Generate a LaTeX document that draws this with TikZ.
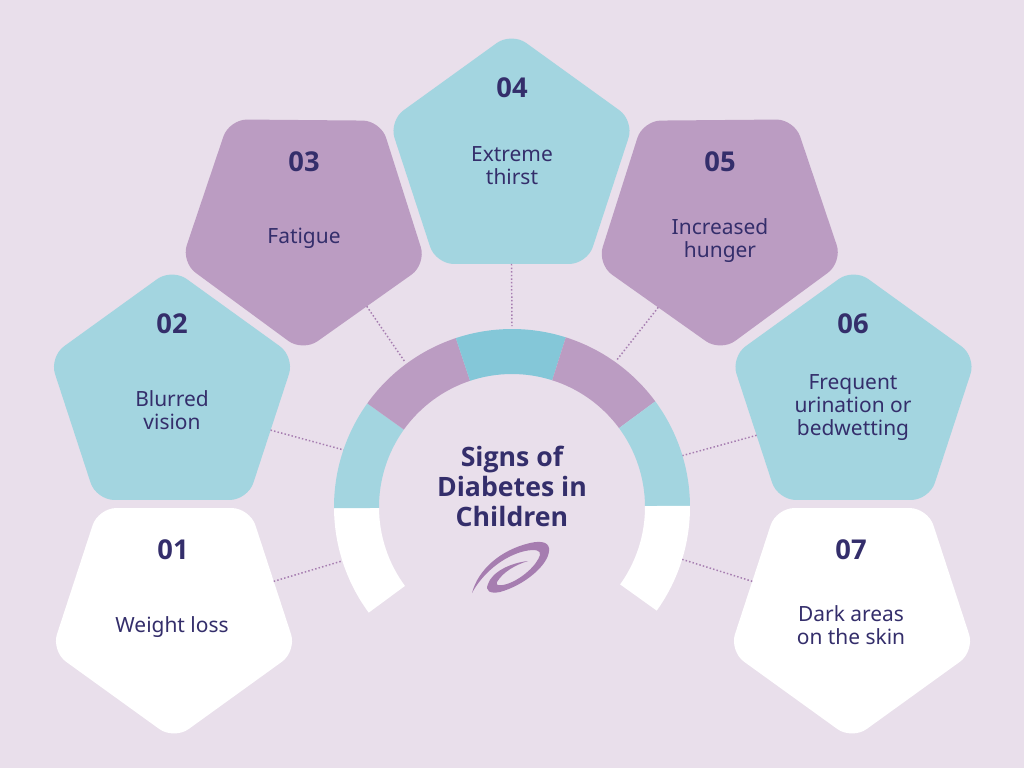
\documentclass[tikz,border=0pt]{standalone}
\usepackage{fontspec}
\usetikzlibrary{shapes.geometric}
\setmainfont{Noto Sans}
\newfontfamily\headfont{Open Sans}
\definecolor{bgcol}{RGB}{233,223,235}
\definecolor{tealcol}{RGB}{163,213,224}
\definecolor{topcol}{RGB}{132,199,216}
\definecolor{purpcol}{RGB}{187,156,194}
\definecolor{inkcol}{RGB}{52,46,107}
\definecolor{dotcol}{RGB}{166,125,176}
\tikzset{every picture/.style={x=.75pt,y=-.75pt}}
\tikzset{pent/.style={regular polygon,regular polygon sides=5,minimum size=192pt,inner sep=0,outer sep=0,rounded corners=13.5pt,xscale=1.007,transform shape}}
\tikzset{pentdown/.style={pent,shape border rotate=180}}
\tikzset{num/.style={text=inkcol,font=\fontsize{20.5}{24}\headfont\bfseries}}
\tikzset{lab/.style={text=inkcol,align=center,font=\fontsize{15.7}{17.25}\selectfont}}
\tikzset{link/.style={dotcol,line width=1.1pt,dash pattern=on 1.1pt off 1.6pt}}
\tikzset{seg/.style={shift={(ringc)}}}
\newcommand{\ringseg}[3]{\fill [#3,seg] (#1:133.5pt) arc [start angle=#1,end angle=#2,radius=133.5pt] -- (#2:99.75pt) arc [start angle=#2,end angle=#1,radius=99.75pt] -- cycle;}
\begin{document}
\begin{tikzpicture}
\fill [bgcol] (0,0) rectangle (1024,768);
\coordinate (ringc) at (512,507);

\coordinate (c1) at (342,561);
\coordinate (c2) at (344,450);
\coordinate (c3) at (405,362);
\coordinate (c4) at (512,326);
\coordinate (c5) at (616,361);
\coordinate (c6) at (681,456);
\coordinate (c7) at (681,559);

\node [pentdown,fill=white] (p1) at (174,611.6) {};
\node [pent,fill=tealcol] (p2) at (172,396.4) {};
\node [pentdown,fill=purpcol,shape border rotate=179.5] (p3) at (304,223.6) {};
\node [pent,fill=tealcol] (p4) at (511.5,160.4) {};
\node [pentdown,fill=purpcol,shape border rotate=180.5] (p5) at (719.5,223.6) {};
\node [pent,fill=tealcol] (p6) at (853.5,396.4) {};
\node [pentdown,fill=white] (p7) at (852,611.6) {};

\draw [link] (p1.17.7) -- (c1);
\draw [link] (p2.-19.4) -- (c2);
\draw [link] (p3.-53.4) -- (c3);
\draw [link] (p4.-90) -- (c4);
\draw [link] (p5.234.5) -- (c5);
\draw [link] (p6.202.8) -- (c6);
\draw [link] (p7.163) -- (c7);

\ringseg{216.4}{180.4}{white}
\ringseg{180.4}{144.4}{tealcol}
\ringseg{144.4}{108.4}{purpcol}
\ringseg{108.4}{72.4}{topcol}
\ringseg{72.4}{36.4}{purpcol}
\ringseg{36.4}{0.4}{tealcol}
\ringseg{0.4}{-35.6}{white}

\node [num] (n1) at (173,550) {01};
\node [num] (n2) at (172,324) {02};
\node [num] (n3) at (304,162) {03};
\node [num] (n4) at (512,88) {04};
\node [num] (n5) at (720,162) {05};
\node [num] (n6) at (853,324) {06};
\node [num] (n7) at (851,550) {07};

\node [lab] (t1) at (172,627) {Weight loss};
\node [lab] (t2) at (172,410.5) {Blurred\\vision};
\node [lab] (t3) at (304,238) {Fatigue};
\node [lab] (t4) at (512,166) {Extreme\\thirst};
\node [lab] (t5) at (720,240.5) {Increased\\hunger};
\node [lab] (t6) at (853,408) {Frequent\\urination or\\bedwetting};
\node [lab] (t7) at (851,625) {Dark areas\\on the skin};

\node [text=inkcol,align=center,font=\fontsize{20}{22.5}\headfont\bfseries] (title) at (512,486) {Signs of\\Diabetes in\\Children};

\fill [dotcol] (472,593) .. controls (478,570) and (500,550) .. (530,543)
  .. controls (543,540) and (550,543) .. (549,551)
  .. controls (548,565) and (525,585) .. (500,592)
  .. controls (490,594) and (485,591) .. (488,584)
  .. controls (492,572) and (510,563) .. (528,561)
  .. controls (515,565) and (503,572) .. (497,582)
  .. controls (495,586) and (500,586) .. (507,584)
  .. controls (522,579) and (537,565) .. (540,555)
  .. controls (541,550) and (535,549) .. (525,551)
  .. controls (503,556) and (482,574) .. cycle;
\end{tikzpicture}
\end{document}
